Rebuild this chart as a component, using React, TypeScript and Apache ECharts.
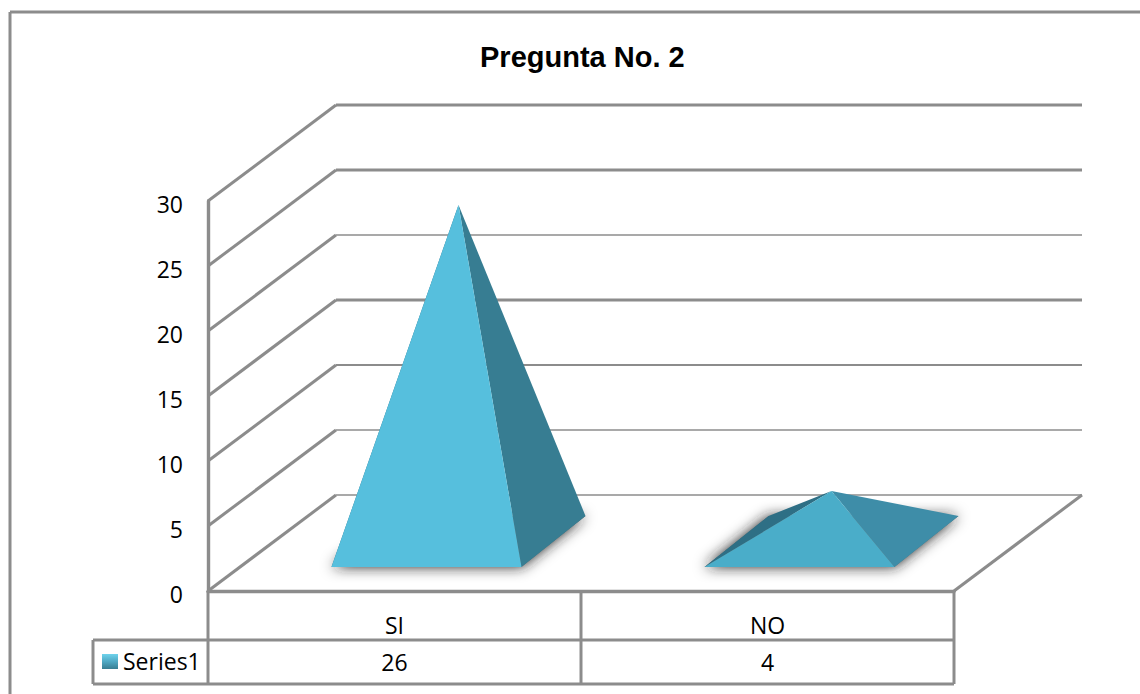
import React, { useEffect, useRef } from "react";
import * as echarts from "echarts";

const categories = ["SI", "NO"];
const seriesName = "Series1";
const seriesValues = [26, 4];
const tickValues = [0, 5, 10, 15, 20, 25, 30];
const titleText = "Pregunta No. 2";

const GRAY = "#8c8c8c";
const FONT = "'Open Sans', Lato, sans-serif";
const DEPTH_X = 128;
const DEPTH_Y = -96;
const wallWidths: Record<number, number> = { 0: 1.6, 5: 1.6, 10: 2.2, 15: 3.2, 20: 1.6, 25: 3, 30: 3 };
const frontColors = ["#56bfdd", "#4aadc9"];
const rightColors = ["#377d92", "#3e8da8"];
const leftColor = "#2e6f85";
const HALF_W = 95;
const HALF_DX = 32;
const HALF_DY = 25.5;

function renderWall(params: any, api: any) {
  const cs = params.coordSys;
  const v = api.value(0);
  const y = api.coord([0, v])[1];
  const x0 = cs.x;
  const x1 = cs.x + DEPTH_X;
  const y1 = y + DEPTH_Y;
  const x2 = cs.x + cs.width + DEPTH_X;
  const children: any[] = [
    {
      type: "line",
      shape: { x1: x0, y1: y, x2: x1, y2: y1 },
      style: { stroke: GRAY, lineWidth: 3, fill: null },
    },
    {
      type: "line",
      shape: { x1: x1, y1: y1, x2: x2, y2: y1 },
      style: { stroke: GRAY, lineWidth: wallWidths[v] ?? 2, fill: null },
    },
  ];
  if (v === 0) {
    children.push({
      type: "line",
      shape: { x1: x2, y1: y1, x2: cs.x + cs.width, y2: y },
      style: { stroke: GRAY, lineWidth: 3, fill: null },
    });
  }
  return { type: "group", children };
}

function renderPyramid(params: any, api: any) {
  const i = params.dataIndex;
  const c = api.value(0);
  const v = api.value(1);
  const front = api.coord([c, 0]);
  const top = api.coord([c, v]);
  const cx = front[0] + DEPTH_X / 2;
  const cy = front[1] + DEPTH_Y / 2 - 1.5;
  const fl = [cx - HALF_W - HALF_DX, cy + HALF_DY];
  const fr = [cx + HALF_W - HALF_DX, cy + HALF_DY];
  const br = [cx + HALF_W + HALF_DX, cy - HALF_DY];
  const bl = [cx - HALF_W + HALF_DX, cy - HALF_DY];
  const apex = [cx, top[1] + DEPTH_Y / 2];
  return {
    type: "group",
    children: [
      {
        type: "polygon",
        shape: { points: [fl, fr, br, bl] },
        style: { fill: "#6a6a6a", shadowBlur: 14, shadowColor: "rgba(30,30,30,0.95)" },
      },
      { type: "polygon", shape: { points: [fl, bl, apex] }, style: { fill: leftColor } },
      { type: "polygon", shape: { points: [fr, br, apex] }, style: { fill: rightColors[i] } },
      { type: "polygon", shape: { points: [fl, fr, apex] }, style: { fill: frontColors[i] } },
      {
        type: "text",
        style: {
          text: String(v),
          x: front[0],
          y: front[1] + 71,
          textAlign: "center",
          textVerticalAlign: "middle",
          font: `23px ${FONT}`,
          fill: "#000000",
        },
      },
    ],
  };
}

export default function App() {
  const ref = useRef<HTMLDivElement>(null);
  useEffect(() => {
    document.body.style.margin = "0";
    const chart = echarts.init(ref.current!, null, { renderer: "svg" });
    const line = (x1: number, y1: number, x2: number, y2: number, w = 3) => ({
      type: "line",
      silent: true,
      shape: { x1, y1, x2, y2 },
      style: { stroke: GRAY, lineWidth: w, fill: null },
    });
    chart.setOption({
      animation: false,
      backgroundColor: "#ffffff",
      title: {
        text: titleText,
        left: 475,
        top: 37,
        textStyle: { fontFamily: "'Liberation Sans', Arial, sans-serif", fontWeight: "bold", fontSize: 29, color: "#000000" },
      },
      grid: { left: 208, top: 201, width: 746, height: 390 },
      xAxis: {
        type: "category",
        data: categories,
        axisLine: { show: true, lineStyle: { color: GRAY, width: 3.4 } },
        axisTick: { show: false },
        splitLine: { show: false },
        axisLabel: { color: "#000000", fontFamily: FONT, fontSize: 23, margin: 22 },
      },
      yAxis: {
        type: "value",
        min: 0,
        max: 30,
        interval: 5,
        axisLine: { show: true, lineStyle: { color: GRAY, width: 3.4 } },
        axisTick: { show: false },
        splitLine: { show: false },
        axisLabel: { color: "#000000", fontFamily: FONT, fontSize: 23, margin: 25, verticalAlign: "top", lineHeight: 5 },
      },
      series: [
        {
          type: "custom",
          name: "walls",
          coordinateSystem: "cartesian2d",
          clip: false,
          silent: true,
          data: tickValues.map((t) => [t]),
          encode: { y: 0 },
          renderItem: renderWall,
          z: 1,
        },
        {
          type: "custom",
          name: seriesName,
          coordinateSystem: "cartesian2d",
          clip: false,
          silent: true,
          data: seriesValues.map((v, i) => [i, v]),
          encode: { x: 0, y: 1 },
          renderItem: renderPyramid,
          z: 3,
        },
      ],
      graphic: [
        line(10, 12, 1140, 12),
        line(10, 12, 10, 694),
        line(208, 591, 208, 684),
        line(581, 591, 581, 684),
        line(954, 591, 954, 684),
        line(93, 640, 954, 640),
        line(93, 684, 954, 684),
        line(93, 640, 93, 684),
        {
          type: "rect",
          shape: { x: 102, y: 654, width: 16, height: 15 },
          style: {
            fill: new echarts.graphic.LinearGradient(0, 0, 0, 1, [
              { offset: 0, color: "#6fd3ec" },
              { offset: 0.5, color: "#4fa9c4" },
              { offset: 1, color: "#377d92" },
            ]),
          },
        },
        {
          type: "text",
          style: { text: seriesName, x: 123, y: 661, textVerticalAlign: "middle", font: `23px ${FONT}`, fill: "#000000" },
        },
      ],
    });
    return () => chart.dispose();
  }, []);
  return <div ref={ref} style={{ position: "fixed", left: 0, top: 0, width: 1140, height: 694 }} />;
}
